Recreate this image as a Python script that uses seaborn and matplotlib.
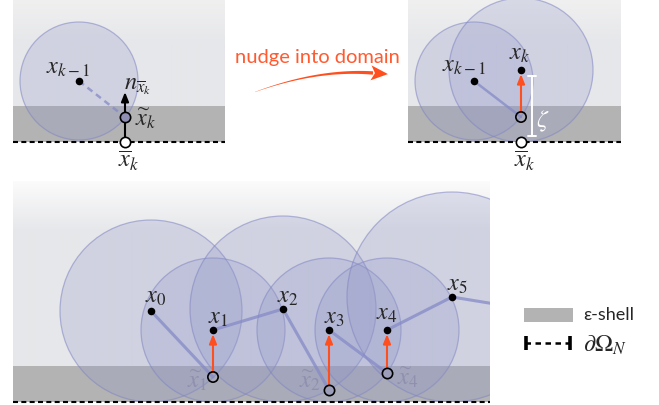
import numpy as np
import matplotlib
matplotlib.use('Agg')
import matplotlib.pyplot as plt
import seaborn as sns
import pandas as pd
from matplotlib.patches import Circle, Rectangle, Polygon

# ---------------- data (pixel coordinates of the diagram) ----------------
# top-left panel: before nudging
p1_prev = [79, 82]
p1_radius = 59
p1_tilde = [125, 118]
p1_bar = [125, 143]
p1_normal_tip = [125, 93]

# top-right panel: after nudging
p2_prev = [474, 82]
p2_prev_radius = 59
p2_new = [521, 71]
p2_new_radius = 72
p2_tilde = [521, 118]
p2_bar = [521, 143]
zeta_x = 532
zeta_span = [77, 137]

# bottom panel: chain of balls
chain_labels = ["x_0", "x_1", "x_2", "x_3", "x_4", "x_5"]
chain_x = [151, 213, 283, 329, 387, 452]
chain_y = [312, 331, 310, 331, 331, 298]
chain_r = [91, 72, 93, 72, 72, 105]
chain_label_x = [156, 218, 288, 334, 387, 457]
chain_label_y = [298, 319, 298, 319, 315, 286]

tilde_labels = ["1", "2", "4"]
tilde_x = [213, 329, 387]
tilde_y = [378, 391, 374]
tilde_target = [1, 3, 4]          # index of the chain point each one is nudged to
tilde_label_x = [197, 310, 408]
tilde_label_y = [381, 381, 378]

# polyline of the path: (from, to) with 't' = tilde point
path_pairs = [(("c", 0), ("t", 0)), (("c", 1), ("c", 2)), (("c", 2), ("t", 1)),
              (("c", 3), ("t", 2)), (("c", 4), ("c", 5)), (("c", 5), ("p", (495, 305)))]

legend_labels = ["ε-shell", r"$\partial\Omega_N$"]

# ---------------- style ----------------
sns.set_style("white")
plt.rcParams['font.family'] = ['Lato', 'DejaVu Sans']
plt.rcParams['mathtext.fontset'] = 'stix'

W, H = 659, 406
fig = plt.figure(figsize=(W / 100, H / 100), dpi=100)
ax = fig.add_axes([0, 0, 1, 1])

BG = np.array([230, 231, 234]) / 255
SHELL = '#b3b3b3'
BALL_FC = (0.56, 0.58, 0.78, 0.25)
BALL_EC = (0.50, 0.52, 0.76, 0.55)
PATH_C = (0.52, 0.54, 0.78, 0.75)
RED = '#ff4f1f'
FADED = '#9090ae'
MATH_FS = 17.5


def panel(x0, x1, y0, y1, shell_top, top_val, fade_len):
    n = int(y1 - y0)
    rows = np.arange(n)
    f = np.clip(rows / fade_len, 0, 1)[:, None]
    top = np.array([top_val] * 3)
    col = top * (1 - f) + BG * f
    img = np.repeat(col[:, None, :], 4, axis=1)
    ax.imshow(img, extent=(x0, x1, y1, y0), origin='upper', aspect='auto',
              interpolation='bilinear', zorder=0)
    ax.add_patch(Rectangle((x0, shell_top), x1 - x0, y1 - shell_top,
                           fc=SHELL, ec='none', zorder=1))
    ax.plot([x0, x1], [y1, y1], color='black', lw=1.5, ls=(0, (2.4, 1.6)), zorder=6)
    return Rectangle((x0, y0), x1 - x0, y1 - y0, transform=ax.transData)


def ball(c, r, clip):
    circ = Circle(c, r, fc=BALL_FC, ec=BALL_EC, lw=0.9, zorder=2)
    ax.add_patch(circ)
    circ.set_clip_path(clip)


def red_arrow(start, end):
    ax.annotate('', xy=end, xytext=start,
                arrowprops=dict(arrowstyle='-|>,head_length=0.55,head_width=0.22',
                                color=RED, lw=1.5, shrinkA=3.5, shrinkB=3), zorder=7)


def dots(xs, ys):
    sns.scatterplot(x=xs, y=ys, ax=ax, color='black', s=30, linewidth=0,
                    zorder=8, legend=False)


def hollow(xs, ys, fc):
    ax.scatter(xs, ys, s=55, facecolors=fc, edgecolors='black', linewidths=1.2, zorder=8)


# ---------------- top-left panel ----------------
clip1 = panel(13, 225, -5, 143, 107, 0.945, 50)
ball(p1_prev, p1_radius, clip1)
ax.plot([p1_prev[0], p1_tilde[0]], [p1_prev[1], p1_tilde[1]], color=PATH_C,
        lw=1.8, ls=(0, (2.5, 1.8)), zorder=3)
ax.annotate('', xy=p1_normal_tip, xytext=p1_bar,
            arrowprops=dict(arrowstyle='-|>,head_length=0.55,head_width=0.22',
                            color='black', lw=1.5, shrinkA=0, shrinkB=0), zorder=7)
dots([p1_prev[0]], [p1_prev[1]])
hollow([p1_tilde[0]], [p1_tilde[1]], '#8e8fb2')
hollow([p1_bar[0]], [p1_bar[1]], 'white')
ax.text(68, 69, r'$x_{k-1}$', fontsize=MATH_FS, ha='center', va='center', zorder=9)
ax.text(138, 87, r'$n_{\overline{x}_k}$', fontsize=MATH_FS, ha='center', va='center', zorder=9)
ax.text(146, 119, r'$\widetilde{x}_k$', fontsize=MATH_FS, ha='center', va='center', zorder=9)
ax.text(129, 161, r'$\overline{x}_k$', fontsize=MATH_FS, ha='center', va='center', zorder=9)

# ---------------- top-right panel ----------------
clip2 = panel(408, 621, -5, 143, 107, 0.945, 50)
ball(p2_prev, p2_prev_radius, clip2)
ball(p2_new, p2_new_radius, clip2)
ax.plot([p2_prev[0], p2_tilde[0]], [p2_prev[1], p2_tilde[1]], color=PATH_C,
        lw=1.8, zorder=3)
red_arrow(p2_tilde, p2_new)
ax.plot([zeta_x, zeta_x], zeta_span, color='white', lw=1.4, zorder=6)
for yy in zeta_span:
    ax.plot([zeta_x - 4, zeta_x + 4], [yy, yy], color='white', lw=1.4, zorder=6)
ax.text(543, 121, r'$\zeta$', fontsize=MATH_FS, color='white', ha='center', va='center', zorder=9)
dots([p2_prev[0], p2_new[0]], [p2_prev[1], p2_new[1]])
hollow([p2_tilde[0]], [p2_tilde[1]], 'none')
hollow([p2_bar[0]], [p2_bar[1]], 'white')
ax.text(520, 55, r'$x_k$', fontsize=MATH_FS, ha='center', va='center', zorder=9)
ax.text(464, 67, r'$x_{k-1}$', fontsize=MATH_FS, ha='center', va='center', zorder=9)
ax.text(525, 161, r'$\overline{x}_k$', fontsize=MATH_FS, ha='center', va='center', zorder=9)

# ---------------- nudge arrow ----------------
ax.text(317, 58, 'nudge into domain', fontsize=14.5, color='#ff5a30', ha='center',
        va='center', zorder=9)
t = np.linspace(0, 1, 80)
P0, P1, P2 = np.array([255., 93.]), np.array([318., 70.]), np.array([373., 74.])
pts = ((1 - t) ** 2)[:, None] * P0 + (2 * (1 - t) * t)[:, None] * P1 + (t ** 2)[:, None] * P2
der = (2 * (1 - t))[:, None] * (P1 - P0) + (2 * t)[:, None] * (P2 - P1)
nrm = np.stack([-der[:, 1], der[:, 0]], axis=1)
nrm /= np.linalg.norm(nrm, axis=1)[:, None]
wid = (0.1 + 1.6 * t)[:, None]
poly = np.vstack([pts + nrm * wid, (pts - nrm * wid)[::-1]])
ax.add_patch(Polygon(poly, closed=True, fc=RED, ec='none', zorder=5))
tan = der[-1] / np.linalg.norm(der[-1])
nn = np.array([-tan[1], tan[0]])
tip = P2 + tan * 15
head = np.array([tip, P2 - tan * 2 + nn * 7.5, P2 + tan * 2, P2 - tan * 2 - nn * 7.5])
ax.add_patch(Polygon(head, closed=True, fc=RED, ec='none', zorder=5))

# ---------------- bottom panel ----------------
clip3 = panel(13, 490, 182, 403, 367, 0.985, 50)
for cx, cy, r in zip(chain_x, chain_y, chain_r):
    ball((cx, cy), r, clip3)


def pt(ref):
    kind, v = ref
    if kind == "c":
        return chain_x[v], chain_y[v]
    if kind == "t":
        return tilde_x[v], tilde_y[v]
    return v


for a, b in path_pairs:
    pa, pb = pt(a), pt(b)
    ln, = ax.plot([pa[0], pb[0]], [pa[1], pb[1]], color=PATH_C, lw=2.2,
                  solid_capstyle='round', zorder=3)
    ln.set_clip_path(clip3)

for tx, ty, ti in zip(tilde_x, tilde_y, tilde_target):
    red_arrow((tx, ty), (chain_x[ti], chain_y[ti]))

dots(chain_x, chain_y)
hollow(tilde_x[:1], tilde_y[:1], 'none')
hollow(tilde_x[1:], tilde_y[1:], '#9d9eb9')

for lab, lx, ly in zip(chain_labels, chain_label_x, chain_label_y):
    ax.text(lx, ly, '$' + lab + '$', fontsize=MATH_FS, ha='center', va='center', zorder=9)
for lab, lx, ly in zip(tilde_labels, tilde_label_x, tilde_label_y):
    ax.text(lx, ly, r'$\widetilde{x}_' + lab + '$', fontsize=MATH_FS, color=FADED,
            ha='center', va='center', zorder=9)

# ---------------- legend ----------------
ax.add_patch(Rectangle((524, 309), 49, 14, fc=SHELL, ec='none', zorder=5))
ax.text(583, 315, legend_labels[0], fontsize=13, ha='left', va='center', zorder=9)
ax.plot([525, 570], [344, 344], color='black', lw=1.8, ls=(0, (2.2, 1.8)), zorder=6)
for xx in [525.5, 569.5]:
    ax.plot([xx, xx], [337, 351], color='black', lw=2.6, solid_capstyle='butt', zorder=6)
ax.text(583, 345, legend_labels[1], fontsize=MATH_FS, ha='left', va='center', zorder=9)

ax.set_xlim(0, W)
ax.set_ylim(H, 0)
ax.axis('off')
fig.savefig('out.png', dpi=100, facecolor='white')
